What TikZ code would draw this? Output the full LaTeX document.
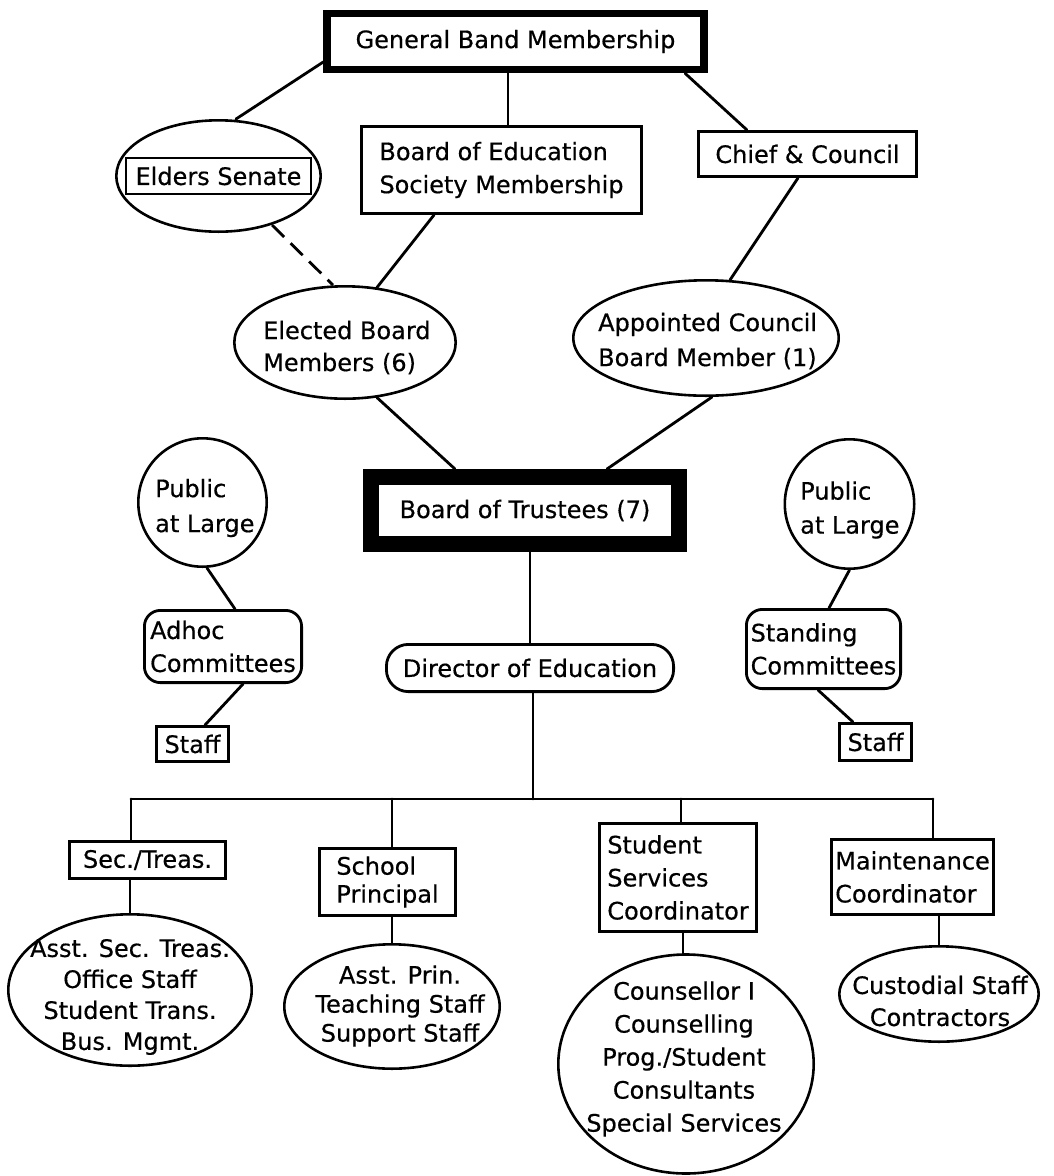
\documentclass[tikz,border=0pt]{standalone}
\usepackage{fontspec}
\setmainfont{DejaVu Sans}[FakeBold=0.5]
\usetikzlibrary{shapes.geometric,calc}
\begin{document}
\begin{tikzpicture}[x=1pt,y=-1pt,
  font=\fontsize{24}{33}\selectfont,
  conn/.style={line width=2.8pt, line cap=round},
  boxnode/.style={draw, line width=2.8pt, rectangle, inner sep=0pt, align=left},
  roundnode/.style={boxnode, rounded corners=16pt},
  ovalnode/.style={draw, line width=2.6pt, ellipse, inner sep=0pt},
  ringnode/.style={draw, line width=2.6pt, circle, inner sep=0pt},
  txt/.style={inner sep=0pt}]
\useasboundingbox (0,0) rectangle (1054,1176);

% --- top level ---
\node[boxnode, line width=7.5pt, minimum width=377pt, minimum height=56pt] (gbm) at (515.5,41.5) {General Band Membership};
\node[boxnode, minimum width=280.2pt, minimum height=87.2pt] (boe) at (501.5,170) {Board of Education\\Society Membership};
\node[boxnode, minimum width=218.2pt, minimum height=45.2pt] (cc) at (807.5,154) {Chief \& Council};

\node[ovalnode, minimum width=204.4pt, minimum height=111.4pt] (elders) at (218.5,176) {};
\node[boxnode, line width=2.4pt, minimum width=184.6pt, minimum height=35.6pt] (eldersIn) at (218.5,176) {Elders Senate};

\node[ovalnode, minimum width=221.4pt, minimum height=112.4pt] (elected) at (345,342.5) {};
\node[txt, anchor=west, align=left, font=\fontsize{24}{32}\selectfont] (electedT) at (263,347.5) {Elected Board\\Members (6)};
\node[ovalnode, minimum width=265.4pt, minimum height=115.4pt] (appointed) at (706,338) {};
\node[txt, anchor=west, align=left, font=\fontsize{24}{35}\selectfont] (appointedT) at (598,341) {Appointed Council\\Board Member (1)};

% --- board and committees ---
\node[boxnode, line width=16pt, minimum width=308pt, minimum height=67pt] (bot) at (525,510.5) {Board of Trustees (7)};

\node[ringnode, minimum size=128.4pt] (pubL) at (202.5,502.5) {};
\node[txt, anchor=west, align=left, font=\fontsize{24}{35}\selectfont] (pubLT) at (155,508) {Public\\at Large};
\node[ringnode, minimum size=129.4pt] (pubR) at (849.5,504) {};
\node[txt, anchor=west, align=left, font=\fontsize{24}{34}\selectfont] (pubRT) at (800,510) {Public\\at Large};

\node[roundnode, minimum width=157.2pt, minimum height=72.2pt] (adhoc) at (223,646.5) {Adhoc\\Committees};
\node[boxnode, minimum width=72.2pt, minimum height=35.2pt] (staffL) at (192.5,744) {Staff};
\node[roundnode, minimum width=154.2pt, minimum height=79.2pt] (standing) at (823.5,649) {Standing\\Committees};
\node[boxnode, minimum width=72.2pt, minimum height=37.2pt] (staffR) at (875.5,742) {Staff};

\node[boxnode, rounded corners=22pt, minimum width=287.2pt, minimum height=47.2pt] (director) at (530,668) {Director of Education};

% --- departments ---
\node[boxnode, minimum width=156.2pt, minimum height=37.2pt] (sec) at (147.5,860) {Sec./Treas.};
\node[boxnode, minimum width=136.2pt, minimum height=67.2pt, font=\fontsize{24}{28}\selectfont] (school) at (387.5,882) {School\\Principal};
\node[boxnode, minimum width=157.2pt, minimum height=108.2pt] (ss) at (678,877.5) {Student\\Services\\Coordinator};
\node[boxnode, minimum width=162.2pt, minimum height=75.2pt] (maint) at (912.5,877) {Maintenance\\Coordinator};

\node[ovalnode, minimum width=243.4pt, minimum height=151.4pt] (secE) at (130,990) {};
\node[txt, align=center, font=\fontsize{24}{31}\selectfont] (secET) at (130,997) {Asst. Sec. Treas.\\Office Staff\\Student Trans.\\Bus. Mgmt.};
\node[ovalnode, minimum width=215.4pt, minimum height=124.4pt] (prinE) at (392,1006.5) {};
\node[txt, align=center, font=\fontsize{24}{29}\selectfont] (prinET) at (400,1006) {Asst. Prin.\\Teaching Staff\\Support Staff};
\node[ovalnode, minimum width=255.4pt, minimum height=219pt] (bigE) at (686,1064) {};
\node[txt, align=center, font=\fontsize{24}{33}\selectfont] (bigET) at (684,1059) {Counsellor I\\Counselling\\Prog./Student\\Consultants\\Special Services};
\node[ovalnode, minimum width=199.4pt, minimum height=95.4pt] (custE) at (939,994) {};
\node[txt, align=center, font=\fontsize{24}{32}\selectfont] (custET) at (940,1001) {Custodial Staff\\Contractors};

\coordinate (barL) at (131,799);
\coordinate (barR) at (933,799);

% --- connectors ---
\draw[conn] ([yshift=-20.5pt]gbm.west) -- ([xshift=17.5pt]elders.north);
\draw[conn] ([xshift=6.5pt]boe.north) -- ([xshift=6.5pt]boe.north |- gbm.south);
\draw[conn] ([xshift=169.5pt]gbm.south) -- ([xshift=-60.5pt]cc.north);
\draw[conn] ([xshift=-67.5pt]boe.south) -- ([xshift=32pt,yshift=-2.4pt]elected.north);
\draw[conn, line cap=butt, dash pattern=on 17pt off 9pt] ([xshift=53.5pt,yshift=8pt]elders.south) -- ([xshift=-12pt]elected.north);
\draw[conn] ([xshift=-9.5pt]cc.south) -- ([xshift=24pt,yshift=-1pt]appointed.north);
\draw[conn] ([xshift=32pt,yshift=2.4pt]elected.south) -- ([xshift=-70pt]bot.north);
\draw[conn] ([xshift=6pt]appointed.south) -- ([xshift=82pt]bot.north);
\draw[conn] ([xshift=4.5pt]pubL.south) -- ([xshift=12pt]adhoc.north);
\draw[conn] ([xshift=20pt]adhoc.south) -- ([xshift=12.5pt]staffL.north);
\draw[conn] (pubR.south) -- ([xshift=5.5pt]standing.north);
\draw[conn] ([xshift=-5.5pt]standing.south) -- ([xshift=-22.5pt]staffR.north);
\draw[conn] (director.north) -- (director.north |- bot.south);
\draw[conn] ([xshift=3pt]director.south) -- ([xshift=3pt]director.south |- barL);
\draw[conn] (barL) -- (barR);
\draw[conn] (barL) -- (barL |- sec.north);
\draw[conn] (prinE.north |- barL) -- (prinE.north |- school.north);
\draw[conn] ([xshift=3pt]ss.north |- barL) -- ([xshift=3pt]ss.north);
\draw[conn] (barR) -- (barR |- maint.north);
\draw[conn] (secE.north |- sec.south) -- (secE.north);
\draw[conn] (prinE.north |- school.south) -- (prinE.north);
\draw[conn] ([xshift=5pt]ss.south) -- ([xshift=5pt]ss.south |- bigE.north);
\draw[conn] (custE.north |- maint.south) -- (custE.north);
\end{tikzpicture}
\end{document}
